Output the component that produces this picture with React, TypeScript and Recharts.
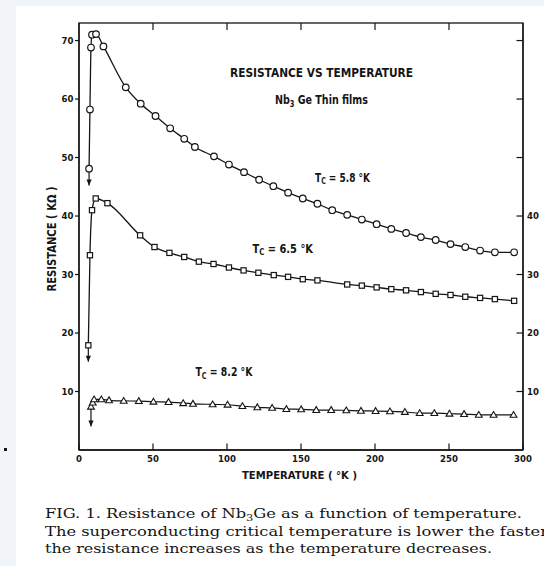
import React from 'react';
import { ComposedChart, Line, XAxis, YAxis } from 'recharts';

// Tc = 5.8 K film (open circles)
const circleT = [6.8, 7.4, 8.1, 8.8, 11.5, 16.5, 31.6, 41.7, 51.7, 61.6, 71.1, 78.3, 91.2, 101.3, 111.5, 121.7, 131.3, 141.3, 151.2, 161.1, 171.1, 181.2, 191.1, 201.1, 211, 221, 231, 241, 251, 261, 271, 281, 294];
const circleR = [48.1, 58.2, 68.8, 71.0, 71.1, 69.0, 62.0, 59.2, 57.1, 55.0, 53.2, 51.8, 50.2, 48.8, 47.5, 46.2, 45.1, 44.0, 43.0, 42.1, 41.0, 40.2, 39.4, 38.6, 37.8, 37.1, 36.4, 35.9, 35.2, 34.7, 34.1, 33.8, 33.8];

// Tc = 6.5 K film (open squares)
const squareT = [6.3, 7.4, 8.8, 11.3, 19.2, 41.3, 51, 61.1, 71.1, 81, 90.9, 101.3, 111.2, 121.2, 131.6, 141.3, 151.2, 161.1, 181.2, 191.1, 201.1, 211, 221, 231, 241, 251, 261, 271, 281, 294];
const squareR = [17.9, 33.3, 41.0, 43.0, 42.2, 36.7, 34.7, 33.7, 33.0, 32.2, 31.8, 31.2, 30.7, 30.3, 29.9, 29.6, 29.2, 29.0, 28.3, 28.1, 27.8, 27.5, 27.3, 27.0, 26.7, 26.5, 26.2, 26.0, 25.8, 25.5];

// Tc = 8.2 K film (open triangles)
const triT = [8.1, 9.3, 10.2, 15.1, 20.3, 30.2, 40.4, 50.3, 60.5, 70.4, 77, 90.3, 100.4, 110.4, 120.5, 130.5, 140.1, 150.1, 160.3, 170.4, 180.6, 190.5, 200.4, 210.1, 220.2, 230.2, 240.1, 250.3, 260.2, 270.1, 280.1, 293.6];
const triR = [7.4, 8.1, 8.65, 8.65, 8.5, 8.4, 8.36, 8.25, 8.2, 8.0, 7.9, 7.8, 7.74, 7.5, 7.3, 7.2, 7.0, 6.95, 6.83, 6.83, 6.77, 6.7, 6.66, 6.6, 6.5, 6.3, 6.3, 6.2, 6.15, 6.0, 6.0, 6.0];

// superconducting drop arrows
const arrow1T = [6.8, 6.8];
const arrow1R = [48.1, 45.2];
const arrow2T = [6.3, 6.3];
const arrow2R = [17.9, 15.1];
const arrow3T = [8.1, 8.1];
const arrow3R = [7.4, 4.0];

const xTicks = [0, 50, 100, 150, 200, 250, 300];
const xTopTicks = [50, 100, 150, 200, 250];
const yTicks = [10, 20, 30, 40, 50, 60, 70];
const yRightLabelled = [10, 20, 30, 40];
const xDomain = [0, 300];
const yDomain = [0, 73];

const zip = (t: number[], r: number[]) => t.map((v, i) => ({ t: v, r: r[i] }));
const circleData = zip(circleT, circleR);
const squareData = zip(squareT, squareR);
const triData = zip(triT, triR);
const arrow1 = zip(arrow1T, arrow1R);
const arrow2 = zip(arrow2T, arrow2R);
const arrow3 = zip(arrow3T, arrow3R);

// chart geometry
const W = 544;
const H = 566;
const MARGIN_TOP = 23;
const LEFT_AXIS_W = 79;
const RIGHT_AXIS_W = 21;
const BOTTOM_AXIS_H = 116;
const PLOT_L = LEFT_AXIS_W;
const PLOT_R = W - RIGHT_AXIS_W;
const PLOT_T = MARGIN_TOP;
const PLOT_B = H - BOTTOM_AXIS_H;
const xPix = (t: number) => PLOT_L + ((t - xDomain[0]) / (xDomain[1] - xDomain[0])) * (PLOT_R - PLOT_L);

const INK = '#151515';
const NARROW = "'Liberation Sans Narrow', 'DejaVu Sans Condensed', sans-serif";
const tickFont = { fontFamily: NARROW, fontSize: 9.5, fontWeight: 700, fill: INK };

const CircleDot = (p: any) => (
  <circle key={`c${p.index}`} cx={p.cx} cy={p.cy} r={3.3} fill="#fff" stroke={INK} strokeWidth={1.2} />
);
const SquareDot = (p: any) => (
  <rect key={`s${p.index}`} x={p.cx - 2.6} y={p.cy - 2.6} width={5.2} height={5.2} fill="#fff" stroke={INK} strokeWidth={1.2} />
);
const TriDot = (p: any) => (
  <polygon key={`t${p.index}`} points={`${p.cx},${p.cy - 3.4} ${p.cx - 3.4},${p.cy + 2.4} ${p.cx + 3.4},${p.cy + 2.4}`} fill="#fff" stroke={INK} strokeWidth={1.1} />
);
const ArrowDot = (p: any) =>
  p.index === 1 ? (
    <polygon key={`a${p.index}`} points={`${p.cx - 2.6},${p.cy - 6} ${p.cx + 2.6},${p.cy - 6} ${p.cx},${p.cy}`} fill={INK} stroke="none" />
  ) : (
    <g key={`a${p.index}`} />
  );

const RIGHT_MARGIN = 4;
const RightTick = (p: any) => {
  const axisX = p.x - RIGHT_MARGIN;
  const v = p.payload.value;
  return (
    <g>
      <path d={`M${axisX},${p.y}H${axisX - 6.5}`} stroke={INK} strokeWidth={1.2} fill="none" />
      {yRightLabelled.includes(v) ? (
        <text x={p.x} y={p.y} dy="0.35em" textAnchor="start" {...tickFont}>{v}</text>
      ) : null}
    </g>
  );
};

function Decor() {
  return (
    <svg width={W} height={H} style={{ position: 'absolute', left: 0, top: 0 }}>
      <rect x={0} y={0} width={W} height={6} fill="#f1f5f9" />
      <rect x={0} y={0} width={16} height={H} fill="#f1f5f9" />
      <rect x={4} y={448} width={3} height={3} fill={INK} />
      <g fontFamily={NARROW} fontWeight={700} fill={INK}>
        <text x={230} y={76.7} fontSize={11.5} textLength={183} lengthAdjust="spacingAndGlyphs">RESISTANCE VS TEMPERATURE</text>
        <text x={275} y={104} fontSize={11.5} textLength={93} lengthAdjust="spacingAndGlyphs">
          Nb<tspan fontSize={8} dy={2.5}>3</tspan><tspan dy={-2.5}> Ge  Thin  films</tspan>
        </text>
        <text x={315} y={181.7} fontSize={11.5} textLength={55} lengthAdjust="spacingAndGlyphs">
          T<tspan fontSize={8} dy={2.5}>C</tspan><tspan dy={-2.5}> = 5.8 °K</tspan>
        </text>
        <text x={252.5} y={252.5} fontSize={11.5} textLength={60.5} lengthAdjust="spacingAndGlyphs">
          T<tspan fontSize={8} dy={2.5}>C</tspan><tspan dy={-2.5}> = 6.5 °K</tspan>
        </text>
        <text x={195.5} y={376} fontSize={11.5} textLength={57} lengthAdjust="spacingAndGlyphs">
          T<tspan fontSize={8} dy={2.5}>C</tspan><tspan dy={-2.5}> = 8.2 °K</tspan>
        </text>
        <text transform="translate(55.5,239) rotate(-90)" x={0} y={0} textAnchor="middle" fontSize={12} textLength={105} lengthAdjust="spacingAndGlyphs">RESISTANCE ( KΩ )</text>
        <text x={299.5} y={479.3} textAnchor="middle" fontSize={10.5} textLength={115} lengthAdjust="spacingAndGlyphs">TEMPERATURE ( °K )</text>
      </g>
      <g fontFamily="'DejaVu Serif', 'Liberation Serif', serif" fontSize={13.5} fill={INK}>
        <text x={45} y={518} textLength={477} lengthAdjust="spacingAndGlyphs">
          FIG. 1. Resistance of Nb<tspan fontSize={9.5} dy={3}>3</tspan><tspan dy={-3}>Ge as a function of temperature.</tspan>
        </text>
        <text x={45} y={536} textLength={503} lengthAdjust="spacingAndGlyphs">The superconducting critical temperature is lower the faster</text>
        <text x={45} y={553} textLength={447} lengthAdjust="spacingAndGlyphs">the resistance increases as the temperature decreases.</text>
      </g>
    </svg>
  );
}

// plot frame with inward tick marks on the top and bottom edges, drawn above the chart
function Frame() {
  return (
    <svg width={W} height={H} style={{ position: 'absolute', left: 0, top: 0, pointerEvents: 'none' }}>
      <rect x={PLOT_L} y={PLOT_T} width={PLOT_R - PLOT_L} height={PLOT_B - PLOT_T} fill="none" stroke={INK} strokeWidth={1.3} />
      {xTicks.map((t) => (
        <path key={`b${t}`} d={`M${xPix(t)},${PLOT_B}V${PLOT_B - 6.5}`} stroke={INK} strokeWidth={1.2} fill="none" />
      ))}
      {xTopTicks.map((t) => (
        <path key={`tp${t}`} d={`M${xPix(t)},${PLOT_T}V${PLOT_T + 7}`} stroke={INK} strokeWidth={1.2} fill="none" />
      ))}
    </svg>
  );
}

export default function App() {
  return (
    <div style={{ position: 'absolute', left: 0, top: 0, width: W, height: H, background: '#fff', overflow: 'hidden' }}>
      <Decor />
      <div style={{ position: 'absolute', left: 0, top: 0, width: W, height: H }}>
        <ComposedChart width={W} height={H} margin={{ top: MARGIN_TOP, right: 0, bottom: 0, left: 0 }}>
          <XAxis
            xAxisId="bottom"
            dataKey="t"
            type="number"
            domain={xDomain}
            ticks={xTicks}
            interval={0}
            height={BOTTOM_AXIS_H}
            axisLine={{ stroke: INK, strokeWidth: 1.3 }}
            tickLine={false}
            tickSize={0}
            tickMargin={5.5}
            tick={tickFont}
          />
          <YAxis
            yAxisId="left"
            type="number"
            domain={yDomain}
            ticks={yTicks}
            interval={0}
            width={LEFT_AXIS_W}
            axisLine={{ stroke: INK, strokeWidth: 1.3 }}
            tickSize={4}
            tickMargin={1.5}
            tick={tickFont}
            tickLine={{ stroke: INK, strokeWidth: 1.2 }}
          />
          <YAxis
            yAxisId="right"
            orientation="right"
            type="number"
            domain={yDomain}
            ticks={yTicks}
            interval={0}
            width={RIGHT_AXIS_W}
            axisLine={{ stroke: INK, strokeWidth: 1.3 }}
            tickLine={false}
            tickSize={0}
            tickMargin={RIGHT_MARGIN}
            tick={RightTick}
          />
          <Line xAxisId="bottom" yAxisId="right" data={triData} dataKey="r" stroke="none" dot={false} activeDot={false} legendType="none" isAnimationActive={false} />
          <Line xAxisId="bottom" yAxisId="left" data={arrow1} dataKey="r" type="linear" stroke={INK} strokeWidth={1.2} dot={ArrowDot} activeDot={false} isAnimationActive={false} />
          <Line xAxisId="bottom" yAxisId="left" data={arrow2} dataKey="r" type="linear" stroke={INK} strokeWidth={1.2} dot={ArrowDot} activeDot={false} isAnimationActive={false} />
          <Line xAxisId="bottom" yAxisId="left" data={arrow3} dataKey="r" type="linear" stroke={INK} strokeWidth={1.2} dot={ArrowDot} activeDot={false} isAnimationActive={false} />
          <Line xAxisId="bottom" yAxisId="left" data={circleData} dataKey="r" type="monotone" stroke={INK} strokeWidth={1.3} dot={CircleDot} activeDot={false} isAnimationActive={false} />
          <Line xAxisId="bottom" yAxisId="left" data={squareData} dataKey="r" type="monotone" stroke={INK} strokeWidth={1.3} dot={SquareDot} activeDot={false} isAnimationActive={false} />
          <Line xAxisId="bottom" yAxisId="left" data={triData} dataKey="r" type="monotone" stroke={INK} strokeWidth={1.2} dot={TriDot} activeDot={false} isAnimationActive={false} />
        </ComposedChart>
      </div>
      <Frame />
    </div>
  );
}
